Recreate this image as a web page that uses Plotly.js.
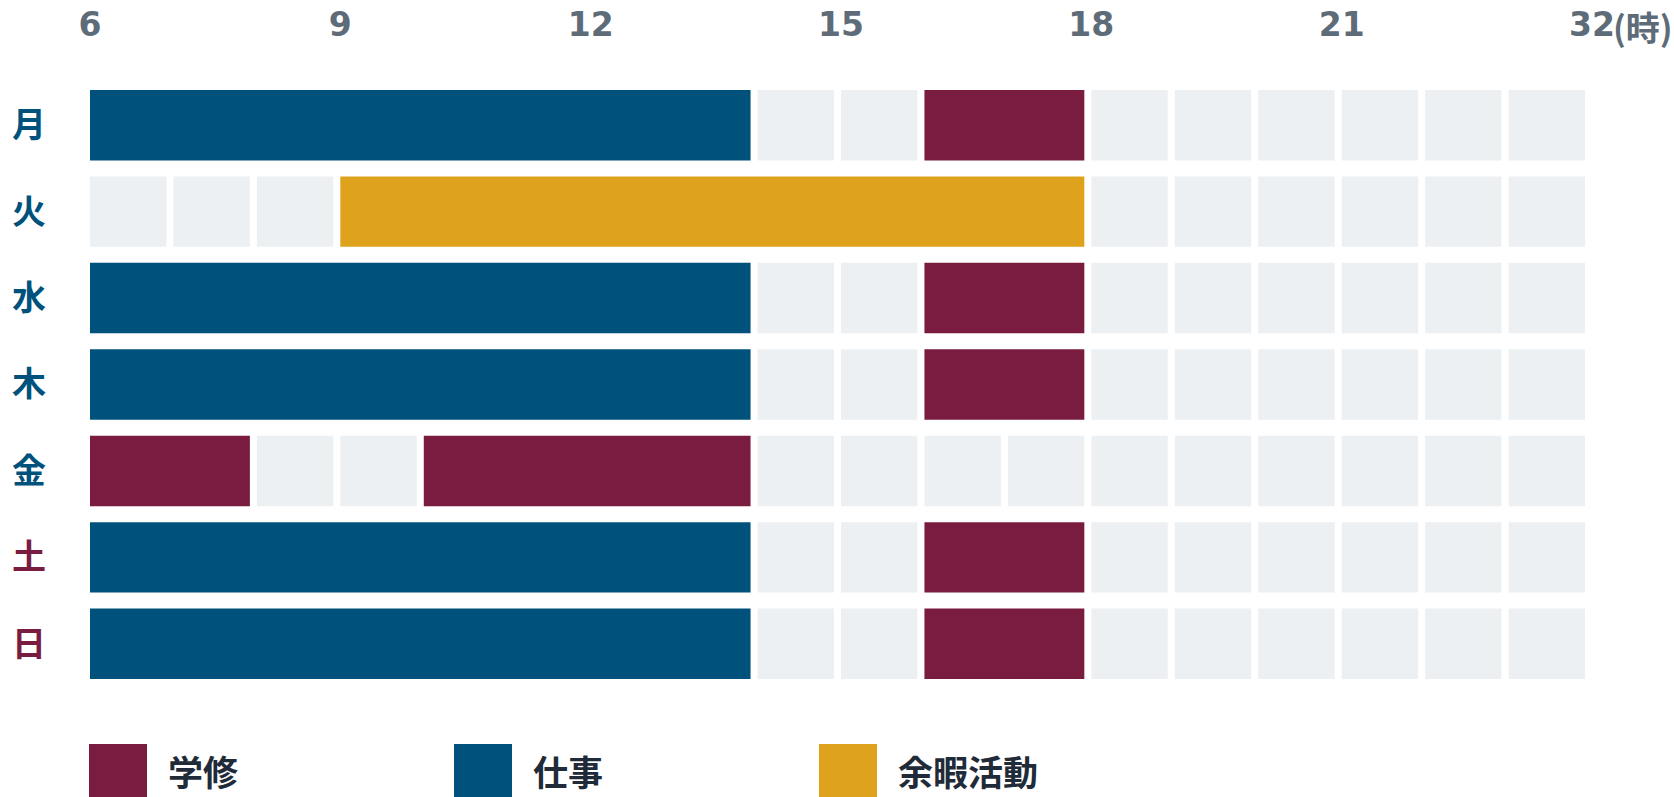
<!DOCTYPE html>
<html><head><meta charset="utf-8">
<script src="https://cdn.plot.ly/plotly-3.0.1.min.js"></script>
<style>html,body{margin:0;padding:0;background:#fff;overflow:hidden}#chart{width:1674px;height:797px}</style>
</head><body><div id="chart"></div>
<script>
// ---- data ----
const days = ['月','火','水','木','金','土','日'];
const dayColors = ['#00527c','#00527c','#00527c','#00527c','#00527c','#7a1c3f','#7a1c3f'];
const hourTicks = [6, 9, 12, 15, 18, 21, 24];
const hourTickText = ['6', '9', '12', '15', '18', '21', '32'];
const hourUnit = '(時)';
const dayStart = 6, dayEnd = 24;

const seriesNames = ['学修', '仕事', '余暇活動'];
const seriesColors = ['#7a1c3f', '#00527c', '#dfa21d'];

const studyDay   = ['月','水','木','金','金','土','日'];
const studyStart = [16, 16, 16, 6, 10, 16, 16];
const studyEnd   = [18, 18, 18, 8, 14, 18, 18];

const workDay   = ['月','水','木','土','日'];
const workStart = [6, 6, 6, 6, 6];
const workEnd   = [14, 14, 14, 14, 14];

const leisureDay   = ['火'];
const leisureStart = [9];
const leisureEnd   = [18];

const freeColor = '#edf0f3';

// ---- layout constants ----
const W = 1674, H = 797;
const ML = 90, MR = 82, MT = 82, MB = 110;
const PW = W - ML - MR, PH = H - MT - MB;
const GAP = 7 * (dayEnd - dayStart) / PW; // 7px white gap in hours

const series = [
  {day: studyDay, start: studyStart, end: studyEnd},
  {day: workDay, start: workStart, end: workEnd},
  {day: leisureDay, start: leisureStart, end: leisureEnd}
];

// free (grey) hour cells = hours not covered by any activity
const freeDay = [], freeStart = [], freeEnd = [];
days.forEach(d => {
  for (let h = dayStart; h < dayEnd; h++) {
    let covered = false;
    series.forEach(s => s.day.forEach((sd, i) => {
      if (sd === d && h >= s.start[i] && h < s.end[i]) covered = true;
    }));
    if (!covered) { freeDay.push(d); freeStart.push(h); freeEnd.push(h + 1); }
  }
});

function barTrace(name, color, dArr, sArr, eArr) {
  return {
    type: 'bar', orientation: 'h', name: name,
    y: dArr, base: sArr,
    x: sArr.map((s, i) => eArr[i] - s - GAP),
    width: 0.815,
    marker: {color: color, line: {width: 0}},
    hoverinfo: 'skip', showlegend: false
  };
}

const traces = [barTrace('空き', freeColor, freeDay, freeStart, freeEnd)];
series.forEach((s, k) => traces.push(barTrace(seriesNames[k], seriesColors[k], s.day, s.start, s.end)));

// custom legend
const shapes = [], annotations = [];
const px2x = px => (px - ML) / PW;
const px2y = py => (H - MB - py) / PH;
seriesNames.forEach((n, k) => {
  const left = 89 + k * 365;
  shapes.push({type: 'rect', xref: 'paper', yref: 'paper',
    x0: px2x(left), x1: px2x(left + 58), y0: px2y(744), y1: px2y(800),
    fillcolor: seriesColors[k], line: {width: 0}, layer: 'above'});
  annotations.push({xref: 'paper', yref: 'paper', x: px2x(left + 77), y: px2y(770),
    xanchor: 'left', yanchor: 'middle', showarrow: false, text: n,
    font: {family: 'Noto Sans CJK JP', size: 35, color: '#1f2b38', weight: 'bold'}});
});
annotations.push({xref: 'x', yref: 'paper', x: dayEnd, y: 1, xanchor: 'left', yanchor: 'middle',
  xshift: 19, yshift: 56, showarrow: false, text: hourUnit,
  font: {family: 'Noto Sans CJK JP', size: 34, color: '#5e6b78', weight: 'bold'}});

const layout = {
  width: W, height: H,
  margin: {l: ML, r: MR, t: MT, b: MB, pad: 0},
  paper_bgcolor: '#fff', plot_bgcolor: '#fff',
  barmode: 'overlay',
  showlegend: false,
  xaxis: {
    range: [dayStart, dayEnd], side: 'top', fixedrange: true,
    tickvals: hourTicks, ticktext: hourTickText,
    showgrid: false, zeroline: false, showline: false, ticks: '',
    ticklabelstandoff: 38,
    tickfont: {family: 'DejaVu Sans', size: 33, color: '#5e6b78', weight: 'bold'}
  },
  yaxis: {
    type: 'category', categoryorder: 'array', categoryarray: days,
    range: [days.length - 0.5, -0.5], fixedrange: true,
    tickvals: days,
    ticktext: days.map((d, i) => '<span style="color:' + dayColors[i] + '">' + d + '</span>'),
    showgrid: false, zeroline: false, showline: false, ticks: '',
    ticklabelstandoff: 43,
    tickfont: {family: 'Noto Sans CJK JP', size: 34, color: '#00527c', weight: 'bold'}
  },
  shapes: shapes,
  annotations: annotations
};

Plotly.newPlot('chart', traces, layout, {staticPlot: true, displayModeBar: false});
</script>
</body></html>
